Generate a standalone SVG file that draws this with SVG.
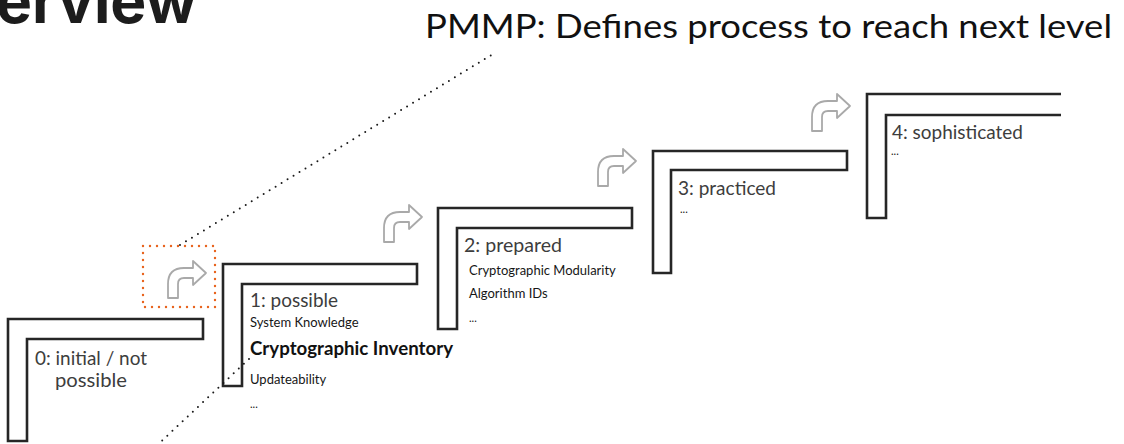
<svg xmlns="http://www.w3.org/2000/svg" width="1124" height="444" viewBox="0 0 1124 444">
  <defs>
    <style>
      .stair { fill: #ffffff; stroke: #262626; stroke-width: 2.6; stroke-linejoin: miter; }
      .lvl { font-family: Lato, "Open Sans", sans-serif; font-size: 19px; fill: #3d3d3d; }
      .sub { font-family: Lato, "Open Sans", sans-serif; font-size: 13px; fill: #161616; }
      .dots { font-family: Lato, "Open Sans", sans-serif; font-size: 11px; fill: #161616; }
      .key { font-family: Lato, "Open Sans", sans-serif; font-size: 18px; font-weight: 700; fill: #111111; }
      .turn { fill: #ffffff; stroke: #a9a9a9; stroke-width: 1.8; stroke-linejoin: round; }
      .zoomline { fill: none; stroke: #1a1a1a; stroke-width: 2; stroke-linecap: round; stroke-dasharray: 0 7; }
      .zoombox { fill: none; stroke: #e8641e; stroke-width: 2.4; stroke-linecap: round; stroke-dasharray: 0 7; }
    </style>
    <path id="turnArrow" class="turn" d="M0,0 L0,-14 Q0,-30 16,-30 L25,-30 L25,-37 L38,-25 L25,-13 L25,-20 L16,-20 Q10,-20 10,-14 L10,0 Z"/>
  </defs>

  <rect x="0" y="0" width="1124" height="444" fill="#ffffff"/>

  <g id="titles">
    <text x="-4" y="23" font-family="Inter, 'Open Sans', sans-serif" font-size="61" font-weight="700" fill="#1c1c1c" textLength="201" lengthAdjust="spacingAndGlyphs">erview</text>
    <text x="425" y="38" font-family="Lato, 'Open Sans', sans-serif" font-size="32" fill="#111111" textLength="687" lengthAdjust="spacingAndGlyphs">PMMP: Defines process to reach next level</text>
  </g>

  <g id="stair0">
    <path class="stair" d="M8,441 L8,319 L203,319 L203,339 L27,339 L27,441 Z"/>
    <text class="lvl" x="91" y="365" text-anchor="middle" textLength="112" lengthAdjust="spacingAndGlyphs">0: initial / not</text>
    <text class="lvl" x="91" y="387" text-anchor="middle" textLength="72" lengthAdjust="spacingAndGlyphs">possible</text>
  </g>

  <g id="stair1">
    <path class="stair" d="M223,386 L223,264 L417,264 L417,284 L242,284 L242,386 Z"/>
    <text class="lvl" x="250" y="307" textLength="88" lengthAdjust="spacingAndGlyphs">1: possible</text>
    <text class="sub" x="250" y="327">System Knowledge</text>
    <text class="key" x="250" y="355" textLength="203" lengthAdjust="spacingAndGlyphs">Cryptographic Inventory</text>
    <text class="sub" x="250" y="384">Updateability</text>
    <text class="dots" x="250" y="408">...</text>
  </g>

  <g id="stair2">
    <path class="stair" d="M438,329 L438,208 L632,208 L632,228 L457,228 L457,329 Z"/>
    <text class="lvl" x="464" y="252" textLength="98" lengthAdjust="spacingAndGlyphs">2: prepared</text>
    <text class="sub" x="469" y="275">Cryptographic Modularity</text>
    <text class="sub" x="469" y="298">Algorithm IDs</text>
    <text class="dots" x="469" y="322">...</text>
  </g>

  <g id="stair3">
    <path class="stair" d="M653,273 L653,151 L847,151 L847,170 L671,170 L671,273 Z"/>
    <text class="lvl" x="678" y="195" textLength="98" lengthAdjust="spacingAndGlyphs">3: practiced</text>
    <text class="dots" x="680" y="213">...</text>
  </g>

  <g id="stair4">
    <path class="stair" d="M1061,94 L867,94 L867,218 L886,218 L886,115 L1061,115"/>
    <text class="lvl" x="892" y="139" textLength="131" lengthAdjust="spacingAndGlyphs">4: sophisticated</text>
    <text class="dots" x="891" y="155">...</text>
  </g>

  <g id="connectors">
    <use href="#turnArrow" x="168" y="298"/>
    <use href="#turnArrow" x="384" y="242"/>
    <use href="#turnArrow" x="598" y="186"/>
    <use href="#turnArrow" x="812" y="131"/>
  </g>

  <g id="callout">
    <rect class="zoombox" x="143" y="246" width="72" height="61"/>
    <line class="zoomline" x1="180" y1="245" x2="493" y2="54"/>
    <line class="zoomline" x1="249" y1="359" x2="152" y2="450"/>
  </g>
</svg>
